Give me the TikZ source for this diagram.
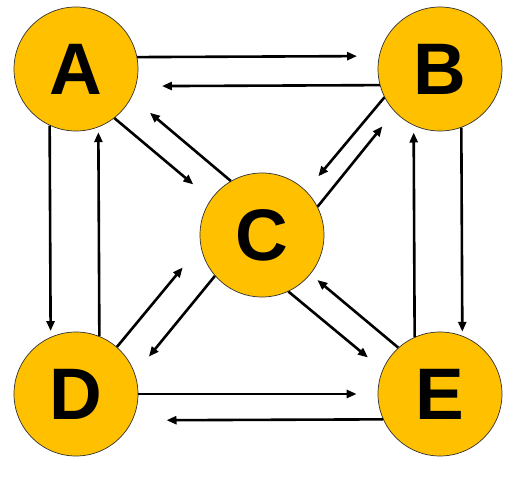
\documentclass[tikz,border=0pt]{standalone}
\usepackage{fontspec}
\setmainfont{Liberation Sans}
\usepackage{tikz}
\definecolor{gold}{HTML}{FFC000}
\usetikzlibrary{arrows.meta, positioning}

\begin{document}
\begin{tikzpicture}[x=1pt, y=-1pt,
    state/.style={draw=black!80, line width=0.7pt, circle, fill=gold, minimum size=124pt, inner sep=0pt, font=\fontsize{73}{73}\selectfont\bfseries},
    arr/.style={-{Triangle[length=10pt,width=8pt]}, line width=2.6pt}]
    \useasboundingbox (0,0) rectangle (515,486);

    \node[state] (A) at (76,69) {A};
    \node[state] (B) at (440,69) {B};
    \node[state] (C) at (262,235) {C};
    \node[state] (D) at (76,394) {D};
    \node[state] (E) at (440,394) {E};

    % outer square
    \draw[arr, shorten >=22pt] (A.11.2) -- (B.168.8);
    \draw[arr, shorten >=26pt] (B.195.9) -- (A.344.1);
    \draw[arr, shorten >=21pt] (D.east) -- (E.west);
    \draw[arr, shorten >=34pt] (E.204.8) -- (D.335.2);
    \draw[arr, shorten >=6pt] (A.245.2) -- (D.114.8);
    \draw[arr, shorten >=5pt] (D.68.2) -- (A.291.8);
    \draw[arr, shorten >=4pt] (B.290.8) -- (E.69.2);
    \draw[arr, shorten >=7pt] (E.114.8) -- (B.245.2);

    % to and from the centre
    \draw[arr, shorten >=23pt] (A.-52.9) -- (C.145.6);
    \draw[arr, shorten >=24pt] (C.120.2) -- (A.-27.2);
    \draw[arr, shorten >=19pt] (B.207) -- (C.45.6);
    \draw[arr, shorten >=19pt] (C.27.4) -- (B.223.4);
    \draw[arr, shorten >=28pt] (D.49.7) -- (C.190.9);
    \draw[arr, shorten >=22pt] (C.221.8) -- (D.19.5);
    \draw[arr, shorten >=19pt] (C.-65.5) -- (E.157.4);
    \draw[arr, shorten >=9pt] (E.132.5) -- (C.-39.2);
\end{tikzpicture}
\end{document}
